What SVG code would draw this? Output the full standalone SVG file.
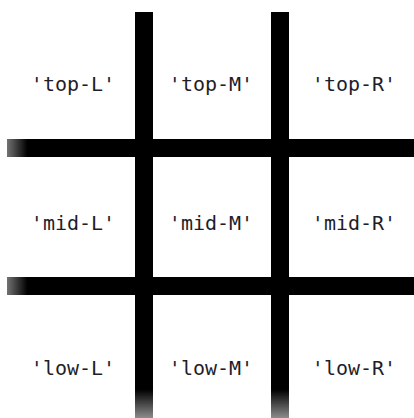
<svg xmlns="http://www.w3.org/2000/svg" width="414" height="418" viewBox="0 0 414 418">
  <defs>
    <linearGradient id="fadeDown" x1="0" y1="0" x2="0" y2="1" gradientUnits="objectBoundingBox">
      <stop offset="0" stop-color="#000"/>
      <stop offset="0.93" stop-color="#000"/>
      <stop offset="1" stop-color="#000" stop-opacity="0.45"/>
    </linearGradient>
    <linearGradient id="fadeLeft" x1="0" y1="0" x2="1" y2="0" gradientUnits="objectBoundingBox">
      <stop offset="0" stop-color="#000" stop-opacity="0.55"/>
      <stop offset="0.05" stop-color="#000"/>
      <stop offset="1" stop-color="#000"/>
    </linearGradient>
    <style>
      .lbl { font-family: "DejaVu Sans Mono", "Liberation Mono", monospace; font-size: 20px; fill: #1e1e2a; text-anchor: middle; }
    </style>
  </defs>
  <rect width="414" height="418" fill="#ffffff"/>
  <g id="connectors">
    <rect x="135" y="12" width="18" height="406" fill="url(#fadeDown)"/>
    <rect x="271" y="12" width="18" height="406" fill="url(#fadeDown)"/>
    <rect x="7" y="139" width="407" height="18" fill="url(#fadeLeft)"/>
    <rect x="7" y="277" width="407" height="18" fill="url(#fadeLeft)"/>
  </g>
  <g id="top-L"><text class="lbl" x="73" y="91">'top-L'</text></g>
  <g id="top-M"><text class="lbl" x="211" y="91">'top-M'</text></g>
  <g id="top-R"><text class="lbl" x="354" y="91">'top-R'</text></g>
  <g id="mid-L"><text class="lbl" x="73" y="230">'mid-L'</text></g>
  <g id="mid-M"><text class="lbl" x="211" y="230">'mid-M'</text></g>
  <g id="mid-R"><text class="lbl" x="354" y="230">'mid-R'</text></g>
  <g id="low-L"><text class="lbl" x="73" y="375">'low-L'</text></g>
  <g id="low-M"><text class="lbl" x="211" y="375">'low-M'</text></g>
  <g id="low-R"><text class="lbl" x="354" y="375">'low-R'</text></g>
</svg>
